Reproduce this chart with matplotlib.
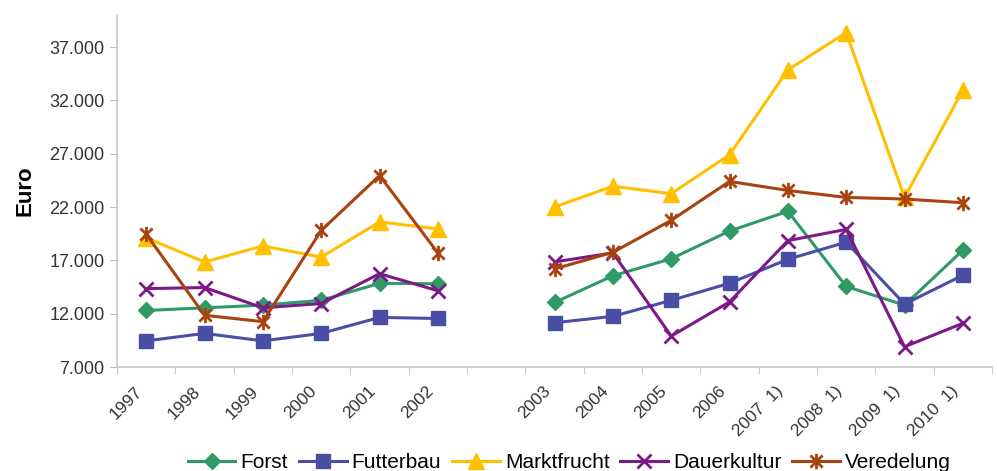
import numpy as np
import matplotlib
matplotlib.use("Agg")
import matplotlib.pyplot as plt
from matplotlib.path import Path
from matplotlib.ticker import FuncFormatter, FixedLocator
from matplotlib.transforms import ScaledTranslation

# Kategorien (Leerstelle zwischen 2002 und 2003)
years = ["1997", "1998", "1999", "2000", "2001", "2002", "",
         "2003", "2004", "2005", "2006", "2007  1)", "2008  1)", "2009  1)", "2010  1)"]

nan = np.nan
forst = [12300, 12550, 12800, 13250, 14850, 14800, nan,
         13050, 15550, 17150, 19750, 21600, 14550, 12800, 17950]
futterbau = [9450, 10150, 9450, 10150, 11650, 11550, nan,
             11150, 11750, 13250, 14850, 17100, 18700, 12900, 15600]
marktfrucht = [19100, 16850, 18350, 17300, 20600, 19950, nan,
               22000, 23950, 23250, 26900, 34850, 38350, 22900, 32950]
dauerkultur = [14350, 14450, 12550, 12950, 15750, 14150, nan,
               16850, 17700, 9900, 13100, 18850, 19900, 8900, 11100]
veredelung = [19450, 11850, 11250, 19800, 24950, 17700, nan,
              16200, 17750, 20750, 24400, 23550, 22900, 22750, 22400]

# Sternmarker wie in Excel (x mit senkrechtem Strich)
star = Path([(0, -1), (0, 1), (-0.8, -0.8), (0.8, 0.8), (-0.8, 0.8), (0.8, -0.8)],
            [Path.MOVETO, Path.LINETO, Path.MOVETO, Path.LINETO, Path.MOVETO, Path.LINETO])

series = [
    ("Forst", forst, "#2f9a66", "D", 8, 1.0),
    ("Futterbau", futterbau, "#4a4fa6", "s", 10, 1.0),
    ("Marktfrucht", marktfrucht, "#ffc000", "^", 11, 1.0),
    ("Dauerkultur", dauerkultur, "#7b1a86", "x", 10, 2.0),
    ("Veredelung", veredelung, "#a8420e", star, 11, 2.0),
]

plt.rcParams["font.family"] = ["Liberation Sans", "DejaVu Sans"]

fig = plt.figure(figsize=(9.97, 4.71), dpi=100)
ax = fig.add_axes([0.1174, 0.2208, 0.8776, 0.7473])

x = np.arange(len(years))
for name, vals, col, mk, ms, mew in series:
    ax.plot(x, vals, color=col, lw=2.2, marker=mk, markersize=ms,
            markeredgewidth=mew, markerfacecolor=col, markeredgecolor=col,
            label=name)

ax.set_xlim(-0.5, len(years) - 0.5)
ax.set_ylim(7000, 40000)
ax.set_yticks(np.arange(7000, 37001, 5000))
ax.yaxis.set_major_formatter(FuncFormatter(lambda v, p: f"{int(v):,}".replace(",", ".")))
ax.set_ylabel("Euro", fontsize=16, fontweight="bold", labelpad=10)

# Teilstriche an den Kategoriegrenzen, Beschriftung in der Mitte
ax.set_xticks(x)
ax.set_xticklabels(years, rotation=45, ha="right", va="top", rotation_mode="anchor")
ax.xaxis.set_minor_locator(FixedLocator(np.arange(-0.5, len(years), 1.0)))
ax.tick_params(axis="x", which="major", length=0, pad=12, labelsize=12.5, labelcolor="#333333")
ax.tick_params(axis="x", which="minor", length=5, color="#bbbbbb", direction="out")
ax.tick_params(axis="y", length=5, color="#bbbbbb", labelsize=13, labelcolor="#333333", pad=4)

shift = ScaledTranslation(-12 / 100, 0, fig.dpi_scale_trans)
for lab in ax.get_xticklabels():
    lab.set_transform(lab.get_transform() + shift)

for s in ["top", "right"]:
    ax.spines[s].set_visible(False)
for s in ["left", "bottom"]:
    ax.spines[s].set_color("#c8c8c8")
    ax.spines[s].set_linewidth(1.2)

fig.legend(loc="center", bbox_to_anchor=(0.571, 0.018), ncol=5, frameon=False,
           fontsize=15, handlelength=2.3, handletextpad=0.25, columnspacing=0.5)

fig.savefig("out.png", dpi=100)
